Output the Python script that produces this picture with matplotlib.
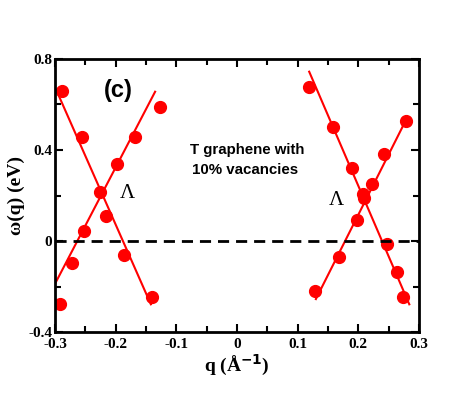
import numpy as np
import matplotlib.pyplot as plt
from matplotlib.ticker import MultipleLocator

# data points
q_left = [-0.288, -0.255, -0.127, -0.168, -0.198, -0.226, -0.216, -0.252, -0.272, -0.292, -0.186, -0.140]
w_left = [0.661, 0.458, 0.590, 0.458, 0.337, 0.217, 0.110, 0.044, -0.095, -0.278, -0.062, -0.245]
q_right = [0.119, 0.159, 0.189, 0.243, 0.278, 0.223, 0.208, 0.210, 0.198, 0.168, 0.129, 0.248, 0.263, 0.273]
w_right = [0.678, 0.500, 0.320, 0.382, 0.529, 0.249, 0.207, 0.190, 0.092, -0.069, -0.220, -0.015, -0.135, -0.245]

# fitted straight lines (end points)
lines_q = [[-0.298, -0.142], [-0.301, -0.135], [0.119, 0.284], [0.130, 0.278]]
lines_w = [[0.664, -0.278], [-0.193, 0.656], [0.744, -0.278], [-0.255, 0.529]]

red = "#ff0000"
serif = "Liberation Serif"

fig = plt.figure(figsize=(4.71, 3.93), dpi=100)
ax = fig.add_axes([0.1168, 0.155, 0.7728, 0.695])

for lq, lw in zip(lines_q, lines_w):
    ax.plot(lq, lw, color=red, lw=1.5)
ax.plot(q_left, w_left, "o", color=red, ms=8.5)
ax.plot(q_right, w_right, "o", color=red, ms=8.5)
ax.axhline(0, color="black", lw=2, ls=(0, (4, 2.5)))

ax.set_xlim(-0.3, 0.3)
ax.set_ylim(-0.4, 0.8)
ax.xaxis.set_minor_locator(MultipleLocator(0.05))
ax.yaxis.set_minor_locator(MultipleLocator(0.2))
ax.tick_params(which="both", direction="in", top=True, right=True, width=1.5)
ax.tick_params(which="major", length=6)
ax.tick_params(which="minor", length=4)
for s in ax.spines.values():
    s.set_linewidth(2)

ax.set_xticks([-0.3, -0.2, -0.1, 0, 0.1, 0.2, 0.3])
ax.set_xticklabels(["-0.3", "-0.2", "-0.1", "0", "0.1", "0.2", "0.3"])
ax.set_yticks([-0.4, 0, 0.4, 0.8])
ax.set_yticklabels(["-0.4", "0", "0.4", "0.8"])
for lab in ax.get_xticklabels() + ax.get_yticklabels():
    lab.set_family(serif)
    lab.set_fontweight("bold")
    lab.set_fontsize(11)
ax.tick_params(axis="x", pad=4)
ax.tick_params(axis="y", pad=2)

ax.set_xlabel(r"q (Å$^{\mathbf{-1}}$)", family=serif, fontweight="bold", fontsize=14, labelpad=2)
ax.set_ylabel("ω(q) (eV)", family=serif, fontweight="bold", fontsize=14, labelpad=2)

ax.text(-0.195, 0.66, "(c)", fontsize=17, fontweight="bold", family="Liberation Sans", ha="center", va="center")
ax.text(-0.078, 0.40, "T graphene with", fontsize=10.8, fontweight="bold", family="Liberation Sans", va="center")
ax.text(-0.075, 0.31, "10% vacancies", fontsize=10.8, fontweight="bold", family="Liberation Sans", va="center")
ax.text(-0.18, 0.21, "Λ", fontsize=15, family=serif, ha="center", va="center")
ax.text(0.163, 0.18, "Λ", fontsize=15, family=serif, ha="center", va="center")

fig.savefig("out.png", dpi=100)
